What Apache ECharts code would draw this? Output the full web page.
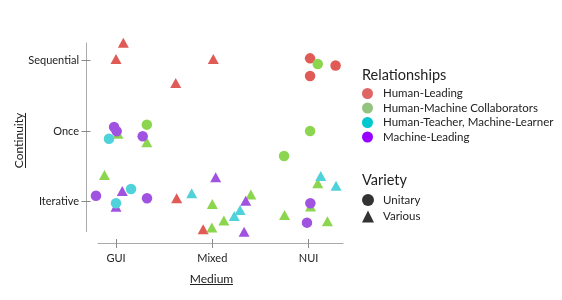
<!DOCTYPE html>
<html>
<head>
<meta charset="utf-8">
<script src="https://cdn.jsdelivr.net/npm/echarts@6.0.0/dist/echarts.min.js"></script>
<style>
html,body{margin:0;padding:0;background:#fff;}
#chart{width:562px;height:300px;}
</style>
</head>
<body>
<div id="chart"></div>
<script>
// Category labels
const xCategories = ['GUI', 'Mixed', 'NUI'];
const yCategories = ['Iterative', 'Once', 'Sequential'];
const relationships = ['Human-Leading', 'Human-Machine Collaborators', 'Human-Teacher, Machine-Learner', 'Machine-Leading'];
const varieties = ['Unitary', 'Various'];
const xTitle = 'Medium';
const yTitle = 'Continuity';
const legendTitle1 = 'Relationships';
const legendTitle2 = 'Variety';

// Jittered positions, in category units [medium, continuity]
const humanLeadingUnitary = [[2.015, 2.03], [2.28, 1.93], [2.015, 1.78]];
const humanLeadingVarious = [[0.076, 2.25], [0, 2.02], [0.62, 1.68], [1.01, 2.02], [0.63, 0.045], [0.905, -0.394]];
const collaboratorsUnitary = [[0.32, 1.09], [2.095, 1.95], [2.015, 1.0], [1.745, 0.645]];
const collaboratorsVarious = [[0.32, 0.84], [0.02, 0.96], [-0.12, 0.376], [1.0, -0.035], [0.995, -0.37], [1.12, -0.27], [1.4, 0.10], [1.75, -0.19], [2.095, 0.26], [2.02, -0.07], [2.195, -0.28]];
const teacherUnitary = [[-0.073, 0.89], [0.156, 0.177], [0, -0.026]];
const teacherVarious = [[0.786, 0.116], [1.228, -0.206], [1.288, -0.12], [2.126, 0.36], [2.285, 0.224]];
const machineUnitary = [[-0.02, 1.057], [0.007, 0.996], [0.277, 0.925], [-0.208, 0.082], [0.322, 0.045], [2.018, -0.026], [1.983, -0.30]];
const machineVarious = [[0.065, 0.149], [0, -0.074], [1.035, 0.343], [1.347, 0.011], [1.33, -0.43]];

const pointColors = ['#e05b56', '#8cd64f', '#4fd2d9', '#a052e0'];
const legendColors = ['#e06666', '#93c47d', '#00c8cf', '#9900ff'];
const FONT = 'Lato, "Open Sans", sans-serif';

const unitary = [humanLeadingUnitary, collaboratorsUnitary, teacherUnitary, machineUnitary];
const various = [humanLeadingVarious, collaboratorsVarious, teacherVarious, machineVarious];

const series = [];
various.forEach((d, i) => series.push({
  name: relationships[i], type: 'scatter', data: d, symbol: 'triangle', symbolSize: [11, 10],
  clip: false, itemStyle: { color: pointColors[i], opacity: 1 }, emphasis: { disabled: true }
}));
unitary.forEach((d, i) => series.push({
  name: relationships[i], type: 'scatter', data: d, symbol: 'circle', symbolSize: 10.5,
  clip: false, itemStyle: { color: pointColors[i], opacity: 1 }, emphasis: { disabled: true }
}));
series.push({ name: varieties[0], type: 'scatter', data: [], symbol: 'circle', itemStyle: { color: '#000' } });
series.push({ name: varieties[1], type: 'scatter', data: [], symbol: 'triangle', itemStyle: { color: '#000' } });

const axisColor = '#aaaaaa';
const xMin = -0.187, xMax = 2.357, yMin = -0.4255, yMax = 2.248;
const ticks = [0, 1, 2];

const chart = echarts.init(document.getElementById('chart'));
chart.setOption({
  animation: false,
  textStyle: { fontFamily: FONT },
  grid: { left: 98, right: 219, top: 43, bottom: 68.5, containLabel: false },
  xAxis: [{
    type: 'value', min: xMin, max: xMax, position: 'bottom', offset: 12,
    axisLine: { show: true, onZero: false, lineStyle: { color: axisColor, width: 1 } },
    axisTick: { show: true, customValues: ticks, length: 4.5, lineStyle: { color: '#888' } },
    axisLabel: { customValues: ticks, formatter: v => xCategories[Math.round(v)], margin: 9, fontSize: 11, color: '#222', fontFamily: FONT },
    splitLine: { show: false }
  }, {
    type: 'value', min: xMin, max: xMax, position: 'bottom', offset: 12,
    axisLine: { show: false, onZero: false },
    axisTick: { show: true, inside: true, customValues: ticks, length: 4.5, lineStyle: { color: '#888' } },
    axisLabel: { show: false }, splitLine: { show: false }
  }],
  yAxis: [{
    type: 'value', min: yMin, max: yMax, position: 'left', offset: 12,
    axisLine: { show: true, onZero: false, lineStyle: { color: axisColor, width: 1 } },
    axisTick: { show: true, customValues: ticks, length: 4.5, lineStyle: { color: '#888' } },
    axisLabel: { customValues: ticks, formatter: v => yCategories[Math.round(v)], margin: 7, fontSize: 11, color: '#222', fontFamily: FONT },
    splitLine: { show: false }
  }, {
    type: 'value', min: yMin, max: yMax, position: 'left', offset: 12,
    axisLine: { show: false, onZero: false },
    axisTick: { show: true, inside: true, customValues: ticks, length: 4.5, lineStyle: { color: '#888' } },
    axisLabel: { show: false }, splitLine: { show: false }
  }],
  legend: [{
    orient: 'vertical', left: 362, top: 87.5, padding: 0, itemGap: 2.5,
    itemWidth: 11, itemHeight: 11, selectedMode: false,
    data: relationships.map((r, i) => ({ name: r, icon: 'circle', itemStyle: { color: legendColors[i] } })),
    textStyle: { fontSize: 11.5, color: '#222', fontFamily: FONT, padding: [0, 0, 0, 5] }
  }, {
    orient: 'vertical', left: 362, top: 194, padding: 0, itemGap: 4.5,
    itemWidth: 12, itemHeight: 12, selectedMode: false,
    data: [{ name: varieties[0], icon: 'circle', itemStyle: { color: '#000' } },
           { name: varieties[1], icon: 'triangle', itemStyle: { color: '#000' } }],
    textStyle: { fontSize: 11.5, color: '#222', fontFamily: FONT, padding: [0, 0, 0, 4] }
  }],
  graphic: [
    { type: 'text', x: 211.5, y: 279, style: { text: xTitle, fontSize: 12, fontFamily: FONT, fill: '#222', textAlign: 'center', textVerticalAlign: 'middle' } },
    { type: 'line', shape: { x1: 190, y1: 284.5, x2: 233, y2: 284.5 }, style: { stroke: '#222', lineWidth: 1 } },
    { type: 'text', x: 19.5, y: 140.5, rotation: Math.PI / 2, style: { text: yTitle, fontSize: 12, fontFamily: FONT, fill: '#222', textAlign: 'center', textVerticalAlign: 'middle' } },
    { type: 'line', shape: { x1: 25.5, y1: 113, x2: 25.5, y2: 168 }, style: { stroke: '#222', lineWidth: 1 } },
    { type: 'text', x: 362, y: 75.7, style: { text: legendTitle1, fontSize: 14.5, fontFamily: FONT, fill: '#222', textAlign: 'left', textVerticalAlign: 'middle' } },
    { type: 'text', x: 362, y: 180, style: { text: legendTitle2, fontSize: 14.5, fontFamily: FONT, fill: '#222', textAlign: 'left', textVerticalAlign: 'middle' } }
  ],
  series: series
});
</script>
</body>
</html>
